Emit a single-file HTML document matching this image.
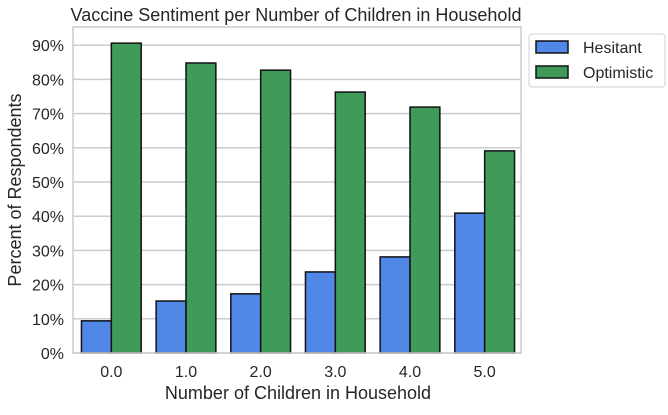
<!DOCTYPE html>
<html><head><meta charset="utf-8"><style>
body{margin:0;background:#fff;width:668px;height:410px;overflow:hidden}
text{font-family:"Liberation Sans",sans-serif;fill:#262626}
</style></head><body>
<svg id="chart" width="668" height="410">
<text x="296" y="21" font-size="18" text-anchor="middle">Vaccine Sentiment per Number of Children in Household</text>
<g id="grid"></g><g id="bars"></g><g id="ticks"></g>
<rect x="73" y="27" width="448" height="326" fill="none" stroke="#cccccc" stroke-width="1.5"/>
<text x="298" y="399" font-size="18" text-anchor="middle">Number of Children in Household</text>
<text transform="translate(21,190) rotate(-90)" font-size="18" text-anchor="middle">Percent of Respondents</text>
<g>
<rect x="529" y="34" width="136" height="53" rx="3" fill="#fff" stroke="#d0d0d0"/>
<rect x="536" y="41" width="32" height="12" fill="#5187e6" stroke="#111" stroke-width="1.5"/>
<text x="583" y="53" font-size="16">Hesitant</text>
<rect x="536" y="66" width="32" height="12" fill="#3f9b5a" stroke="#111" stroke-width="1.5"/>
<text x="583" y="78" font-size="16">Optimistic</text>
</g>
</svg>
<script>
const categories=["0.0","1.0","2.0","3.0","4.0","5.0"];
const hesitant=[9.4,15.2,17.3,23.7,28.1,40.9];
const optimistic=[90.6,84.8,82.7,76.3,71.9,59.1];
const yTicks=[0,10,20,30,40,50,60,70,80,90];
const NS="http://www.w3.org/2000/svg";
const y=v=>353-v*3.42;
const x=i=>74+(i+0.5)*(448/6);
const bw=0.4*448/6;
function mk(t,a,p){const e=document.createElementNS(NS,t);for(const k in a)e.setAttribute(k,a[k]);p.appendChild(e);return e;}
const grid=document.getElementById('grid'),bars=document.getElementById('bars'),ticks=document.getElementById('ticks');
yTicks.forEach(v=>{
 const l=mk('line',{x1:73,x2:521,y1:y(v),y2:y(v),stroke:'#cccccc','stroke-width':1.5},grid);
 
 
 const t=mk('text',{x:64,y:y(v)+6,'font-size':16,'text-anchor':'end'},ticks);
 t.textContent=v+'%';
 
 
});
categories.forEach((c,i)=>{
 const h=mk('rect',{x:x(i)-bw,y:y(hesitant[i]),width:bw,height:y(0)-y(hesitant[i]),fill:'#5187e6',stroke:'#111','stroke-width':1.5},bars);
 
 
 const o=mk('rect',{x:x(i),y:y(optimistic[i]),width:bw,height:y(0)-y(optimistic[i]),fill:'#3f9b5a',stroke:'#111','stroke-width':1.5},bars);
 
 
 const t=mk('text',{x:x(i),y:377,'font-size':16,'text-anchor':'middle'},ticks);
 t.textContent=c;
 
 
});
</script>
</body></html>
